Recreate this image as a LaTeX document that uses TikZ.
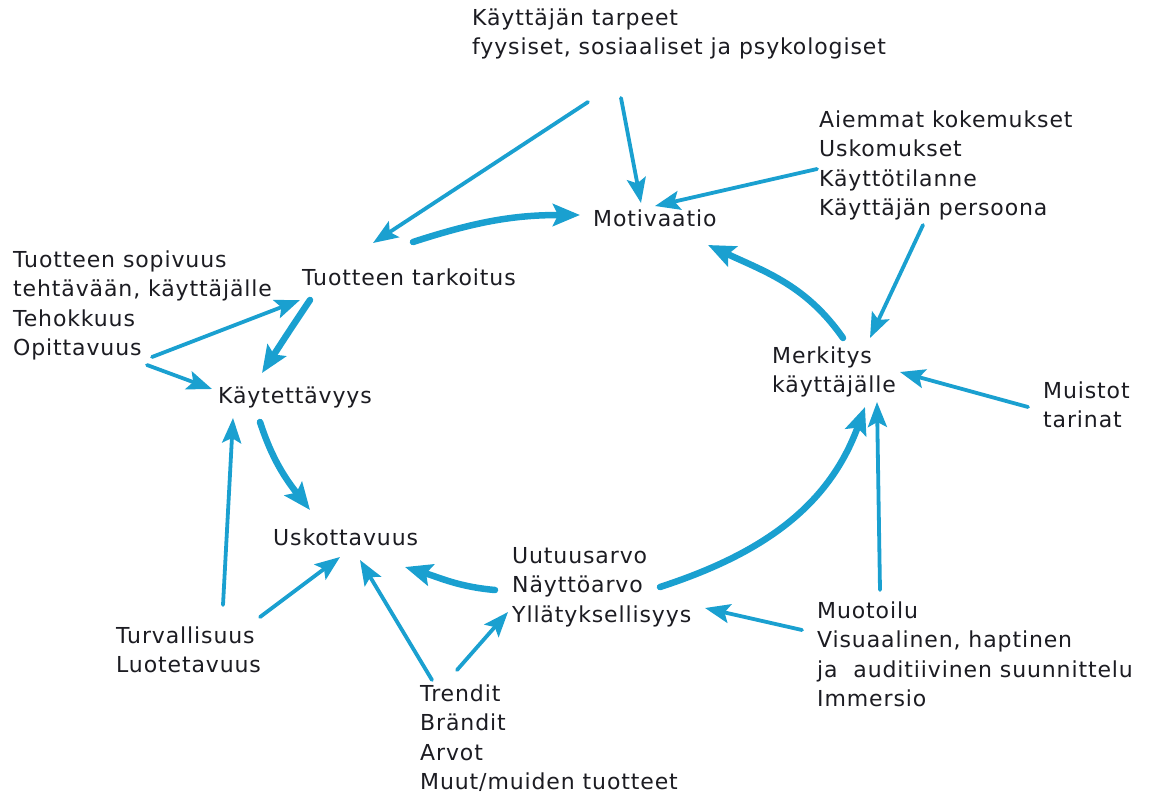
\documentclass[tikz,border=0pt]{standalone}
\usepackage{fontspec}
\setmainfont{DejaVu Sans}[LetterSpace=4]
\usetikzlibrary{arrows.meta}
\definecolor{flow}{RGB}{26,160,208}
\definecolor{ink}{RGB}{28,28,34}
\begin{document}
\begin{tikzpicture}[x=1pt,y=-1pt,
  lbl/.style={anchor=base west, inner sep=0pt, align=left, text=ink,
    font=\fontsize{22}{29.5}\selectfont},
  thin/.style={draw=flow, line width=3.8pt, line cap=round,
    -{Stealth[length=25pt,width=19pt,inset=5pt]}},
  thick/.style={draw=flow, line width=6.5pt, line cap=round,
    -{Stealth[length=27pt,width=22pt,inset=5pt]}}]
\path[use as bounding box, fill=white] (0,0) rectangle (1154,796);

% labels (anchored at the baseline of their last line)
\node[lbl] (tarpeet) at (472,54.5) {Käyttäjän tarpeet\\fyysiset, sosiaaliset ja psykologiset};
\node[lbl] (aiemmat) at (819,215.5) {Aiemmat kokemukset\\Uskomukset\\Käyttötilanne\\Käyttäjän persoona};
\node[lbl] (mot) at (593,226) {Motivaatio};
\node[lbl] (tark) at (302,285) {Tuotteen tarkoitus};
\node[lbl] (sopiv) at (13,355.5) {Tuotteen sopivuus\\tehtävään, käyttäjälle\\Tehokkuus\\Opittavuus};
\node[lbl] (kayt) at (218,403) {Käytettävyys};
\node[lbl] (merk) at (772,392.5) {Merkitys\\käyttäjälle};
\node[lbl] (muist) at (1043,427.5) {Muistot\\tarinat};
\node[lbl] (usk) at (273,545) {Uskottavuus};
\node[lbl] (uutuus) at (512,622) {Uutuusarvo\\Näyttöarvo\\Yllätyksellisyys};
\node[lbl] (turv) at (116,672.5) {Turvallisuus\\Luotetavuus};
\node[lbl] (trend) at (420,789.5) {Trendit\\Brändit\\Arvot\\Muut/muiden tuotteet};
\node[lbl] (muot) at (817,706.5) {Muotoilu\\Visuaalinen, haptinen\\ja~ auditiivinen suunnittelu\\Immersio};

% thin influence arrows
\draw[thin] ([shift={(116,47.5)}]tarpeet.base west) -- ([shift={(71,-42)}]tark.base west);
\draw[thin] ([shift={(149,43.5)}]tarpeet.base west) -- ([shift={(48,-23)}]mot.base west);
\draw[thin] ([shift={(-2,-46.5)}]aiemmat.base west) -- ([shift={(62,-20)}]mot.base west);
\draw[thin] ([shift={(104,9.5)}]aiemmat.base west) -- ([shift={(98,-54.5)}]merk.base west);
\draw[thin] ([shift={(-15,-20.5)}]muist.base west) -- ([shift={(128,-20.5)}]merk.base west);
\draw[thin] ([shift={(63,-116.5)}]muot.base west) -- ([shift={(105,9.5)}]merk.base west);
\draw[thin] ([shift={(-15,-76.5)}]muot.base west) -- ([shift={(193,-14)}]uutuus.base west);
\draw[thin] ([shift={(37,-119.5)}]trend.base west) -- ([shift={(-4,-10)}]uutuus.base west);
\draw[thin] ([shift={(12,-109.5)}]trend.base west) -- ([shift={(87,15)}]usk.base west);
\draw[thin] ([shift={(144,-55.5)}]turv.base west) -- ([shift={(67,12)}]usk.base west);
\draw[thin] ([shift={(107,-67.5)}]turv.base west) -- ([shift={(15,15)}]kayt.base west);
\draw[thin] ([shift={(139,1.5)}]sopiv.base west) -- ([shift={(-2,15)}]tark.base west);
\draw[thin] ([shift={(134,9.5)}]sopiv.base west) -- ([shift={(-6,-14)}]kayt.base west);

% main cycle
\draw[thick] ([shift={(111,-43)}]tark.base west) to[out=18,in=180] ([shift={(-13,-11)}]mot.base west);
\draw[thick] ([shift={(71,-54.5)}]merk.base west) to[out=125,in=-25] ([shift={(115,19)}]mot.base west);
\draw[thick] ([shift={(148,-35)}]uutuus.base west) to[out=18,in=250] ([shift={(93,14.5)}]merk.base west);
\draw[thick] ([shift={(-17,-32)}]uutuus.base west) to[out=175,in=-17] ([shift={(132,22)}]usk.base west);
\draw[thick] ([shift={(42,19)}]kayt.base west) to[out=-72,in=128] ([shift={(37,-35)}]usk.base west);
\draw[thick] ([shift={(8,15)}]tark.base west) to[out=-124,in=57] ([shift={(44,-30)}]kayt.base west);
\end{tikzpicture}
\end{document}
